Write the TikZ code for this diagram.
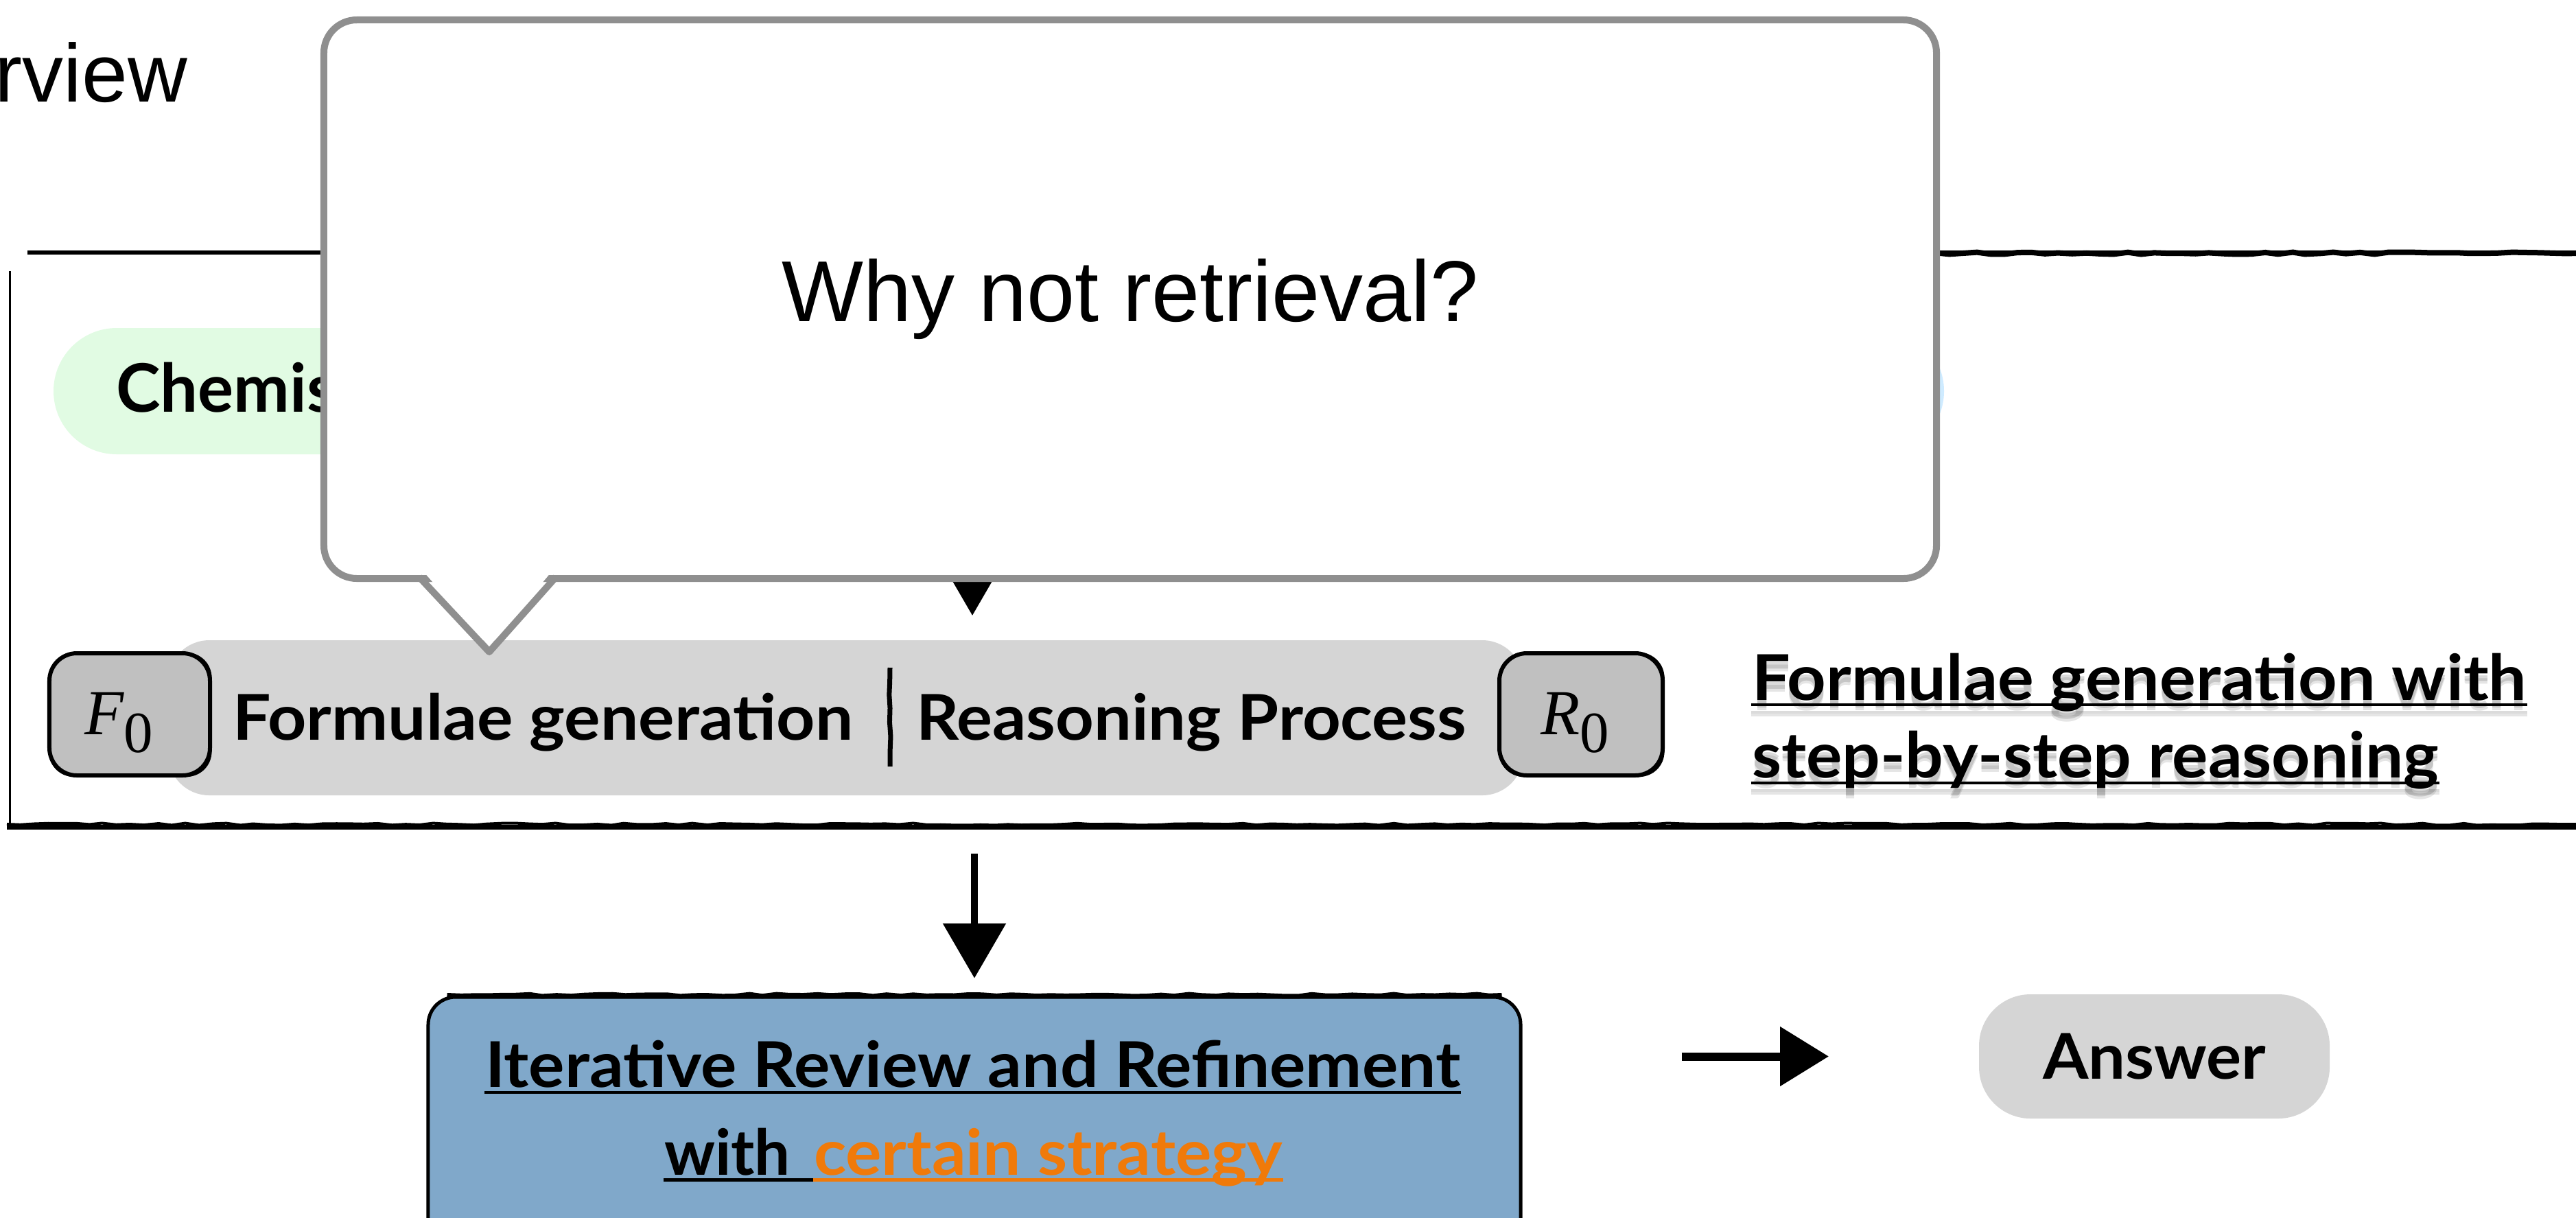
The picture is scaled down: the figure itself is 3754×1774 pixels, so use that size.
\documentclass[tikz,border=0pt]{standalone}
\usepackage{fontspec}
\setmainfont{Liberation Sans}
\newfontfamily\lato{Lato}
\newfontfamily\serifit{Liberation Serif}
\usetikzlibrary{arrows.meta,decorations.pathmorphing}

\definecolor{pillgreen}{HTML}{E1FBE3}
\definecolor{pillblue}{HTML}{CFEBFF}
\definecolor{bargray}{HTML}{D5D5D5}
\definecolor{tokgray}{HTML}{C0C0C0}
\definecolor{stepblue}{HTML}{80A8CA}
\definecolor{accent}{HTML}{F07A0A}
\definecolor{bubble}{HTML}{8F8F8F}

\newcommand\labelfont{\lato\bfseries\fontsize{18.4pt}{22pt}\selectfont}
% set a label to a fixed width, keeping its height
\newcommand\fitw[2]{\resizebox{#1}{\height}{#2}}
\newcommand\tokF{{\serifit\fontsize{18.7pt}{20pt}\selectfont\itshape F}{\serifit\fontsize{17pt}{18pt}\selectfont\raisebox{-5.2pt}{0}}}
\newcommand\tokR{{\serifit\fontsize{18.7pt}{20pt}\selectfont\itshape R}{\serifit\fontsize{17pt}{18pt}\selectfont\raisebox{-5.2pt}{0}}}
\newcommand\noteA{\fitw{225.8pt}{Formulae generation with}}
\newcommand\noteB{\fitw{200.2pt}{step-by-step reasoning}}

\tikzset{
  lbl/.style={font=\labelfont, inner sep=0pt, anchor=base west},
  pill/.style={rounded corners=18.4pt, minimum height=36.8pt, inner sep=0pt},
  token/.style={draw=black, line width=1.2pt, fill=tokgray, rounded corners=8pt,
    minimum height=35.6pt, inner sep=0pt},
  rough/.style={decorate, decoration={random steps, segment length=4pt, amplitude=0.3pt}},
  flow/.style={line width=2pt, -{Triangle[length=16pt,width=18pt]}},
  uline/.style={line width=0.9pt},
}

\begin{document}
\begin{tikzpicture}[x=0.2pt,y=-0.2pt]
\useasboundingbox (0,0) rectangle (3754,1774);
\clip (0,0) rectangle (3754,1774);

% heading, cut at the left edge
\node[anchor=base west, inner sep=0pt, font=\fontsize{24pt}{28pt}\selectfont] (title) at (-8,148) {rview};

% open frame round the generation stage
\draw[line width=1.2pt] (40,368) -- (3760,368);
\draw[line width=1.6pt, rough] (1200,369) -- (3760,369);
\draw[line width=0.6pt] (14,395) -- (14,1205);
\draw[line width=1.4pt] (10,1205) -- (3760,1205);
\draw[line width=0.8pt, rough] (10,1201) -- (3760,1201);

% input pills
\node[pill, fill=pillgreen, minimum width=96pt, anchor=west] (chem) at (77,570) {};
\node[lbl, font=\lato\bfseries\fontsize{19.5pt}{22pt}\selectfont] (chemtxt) at (168,600) {Chemis};
\node[pill, fill=pillblue, minimum width=80pt, anchor=east] (pillb) at (2834,570) {};

% arrow from the inputs into the generation bar
\coordinate (fork) at (1417,700);

% generation bar
\node[fill=bargray, rounded corners=12pt, minimum width=395pt, minimum height=45.2pt, inner sep=0pt] (bar) at (1232.5,1046) {};
\draw[flow, shorten >=7pt] (fork) -- (fork |- bar.north);

\node[token, minimum width=46.8pt] (f0) at (189,1041) {};
\draw[line width=0.6pt, rounded corners=7pt] ([xshift=0.7pt,yshift=0.5pt]f0.south west) rectangle ([xshift=-0.4pt,yshift=-0.7pt]f0.north east);
\node[anchor=base west, inner sep=0pt] (f0t) at (122,1070) {\tokF};

\node[token, minimum width=47.6pt] (r0) at (2304,1041) {};
\draw[line width=0.6pt, rounded corners=7pt] ([xshift=0.7pt,yshift=0.5pt]r0.south west) rectangle ([xshift=-0.4pt,yshift=-0.7pt]r0.north east);
\node[anchor=base west, inner sep=0pt] (r0t) at (2244,1070) {\tokR};

\node[lbl] (gen) at (338,1078) {\fitw{180.8pt}{Formulae generation}};
\node[lbl] (reas) at (1334,1078) {\fitw{160.4pt}{Reasoning Process}};
\coordinate (divtop) at (1297,973);
\coordinate (divbot) at (1297,1117);
\draw[line width=1.4pt, rough] (divtop) -- (divbot);

% side note with a soft drop shadow
\foreach \dx/\dy/\op in {0/-2.2/0.14, 0/-3/0.10} {
  \begin{scope}[xshift=\dx pt, yshift=\dy pt, opacity=\op]
    \node[lbl] (sh1) at (2552,1020) {\noteA};
    \node[lbl] (sh2) at (2552,1133) {\noteB};
    \draw[uline] ([yshift=-1.4pt]sh1.base west) -- ([yshift=-1.4pt]sh1.base east);
    \draw[uline] ([yshift=-1.6pt]sh2.base west) -- ([yshift=-1.6pt]sh2.base east);
  \end{scope}
}
\node[lbl] (note1) at (2552,1020) {\noteA};
\node[lbl] (note2) at (2552,1133) {\noteB};
\draw[uline] ([yshift=-1.4pt]note1.base west) -- ([yshift=-1.4pt]note1.base east);
\draw[uline] ([yshift=-1.6pt]note2.base west) -- ([yshift=-1.6pt]note2.base east);

% refinement stage
\node[draw=black, line width=1pt, fill=stepblue, rounded corners=8pt, minimum width=318.4pt, minimum height=89.4pt, inner sep=0pt] (refine) at (1420,1676.5) {};
\draw[line width=1.4pt, rough] ([xshift=6pt]refine.north west) -- ([xshift=-6pt]refine.north east);
\node[lbl] (ref1) at (706,1584) {\fitw{284.2pt}{Iterative Review and Refinement}};
\node[lbl] (ref2a) at (967,1712) {\fitw{36.8pt}{with}};
\node[lbl, text=accent] (ref2b) at (1185,1712) {\fitw{136.6pt}{certain strategy}};
\draw[uline] ([yshift=-1.6pt]ref1.base west) -- ([yshift=-1.6pt]ref1.base east);
\draw[uline] ([yshift=-1.5pt]ref2a.base west) -- ([yshift=-1.5pt]ref2b.base west);
\draw[uline, accent] ([yshift=-1.5pt]ref2b.base west) -- ([yshift=-1.5pt]ref2b.base east);

\draw[flow, shorten <=16.8pt, shorten >=5pt] (bar.south -| refine.north) -- (refine.north);

% answer
\node[fill=bargray, rounded corners=15pt, minimum width=102.2pt, minimum height=36.2pt, inner sep=0pt, font=\labelfont] (answer) at (3139.5,1539.5) {\fitw{65pt}{Answer}};
\draw[line width=2.4pt, -{Triangle[length=14.2pt,width=16.8pt]}, shorten <=46.4pt, shorten >=43.6pt] (refine.east |- answer.west) -- (answer.west);

% speech bubble on top
\node[draw=bubble, line width=2pt, fill=white, rounded corners=9.6pt, minimum width=470pt, minimum height=162.8pt, inner sep=0pt, font=\fontsize{25.2pt}{30pt}\selectfont] (why) at (1647,436) {Why not retrieval?};
\fill[white] (618,834) -- (713,942) -- (803,834) -- cycle;
\draw[bubble, line width=2pt, line join=round] (611,841) -- (713,950) -- (810,841);
\end{tikzpicture}
\end{document}
